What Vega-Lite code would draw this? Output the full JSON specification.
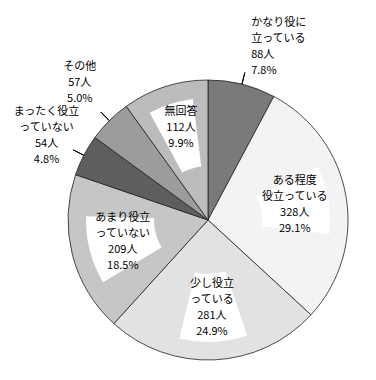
{
  "$schema": "https://vega.github.io/schema/vega-lite/v6.json",
  "width": 336,
  "height": 320,
  "autosize": "none",
  "padding": {"left": 40, "top": 60, "right": 0, "bottom": 0},
  "background": "white",
  "config": {"view": {"stroke": null}},
  "data": {
    "values": [
      {"name": "かなり役に\n立っている", "n": 88, "pct": 7.8},
      {"name": "ある程度\n役立っている", "n": 328, "pct": 29.1},
      {"name": "少し役立\nっている", "n": 281, "pct": 24.9},
      {"name": "あまり役立\nっていない", "n": 209, "pct": 18.5},
      {"name": "まったく役立\nっていない", "n": 54, "pct": 4.8},
      {"name": "その他", "n": 57, "pct": 5.0},
      {"name": "無回答", "n": 112, "pct": 9.9}
    ]
  },
  "transform": [
    {"joinaggregate": [{"op": "sum", "field": "n", "as": "total"}]},
    {"window": [{"op": "sum", "field": "n", "as": "cum"}], "frame": [null, 0]},
    {"calculate": "(datum.cum - datum.n) / datum.total", "as": "start"},
    {"calculate": "datum.cum / datum.total", "as": "end"},
    {"calculate": "(datum.cum - datum.n / 2) / datum.total", "as": "mid"},
    {"calculate": "min(0.045, 0.3 * datum.n / datum.total)", "as": "half"},
    {"calculate": "datum.mid - datum.half", "as": "boxStart"},
    {"calculate": "datum.mid + datum.half", "as": "boxEnd"},
    {"calculate": "datum.name + '\\n' + datum.n + '人\\n' + format(datum.pct, '.1f') + '%'", "as": "label"}
  ],
  "layer": [
    {
      "mark": {"type": "arc", "radius": 140, "stroke": "#222222", "strokeWidth": 0.8},
      "encoding": {
        "theta": {"field": "start", "type": "quantitative", "stack": null, "scale": {"domain": [0, 1], "range": [0, 6.283185307179586]}},
        "theta2": {"field": "end"},
        "fill": {
          "field": "name",
          "type": "nominal",
          "legend": null,
          "scale": {
            "domain": ["かなり役に\n立っている", "ある程度\n役立っている", "少し役立\nっている", "あまり役立\nっていない", "まったく役立\nっていない", "その他", "無回答"],
            "range": ["#7a7a7a", "#f3f3f3", "#e2e2e2", "#c6c6c6", "#5e5e5e", "#9c9c9c", "#bcbcbc"]
          }
        }
      }
    },
    {
      "transform": [{"filter": "datum.pct >= 8"}],
      "mark": {"type": "arc", "radius": 122, "radius2": 54, "fill": "white", "stroke": null},
      "encoding": {
        "theta": {"field": "boxStart", "type": "quantitative", "stack": null},
        "theta2": {"field": "boxEnd"}
      }
    },
    {
      "transform": [{"filter": "datum.pct < 8"}],
      "mark": {"type": "arc", "radius": 152, "radius2": 140, "fill": null, "stroke": "black", "strokeWidth": 1},
      "encoding": {
        "theta": {"field": "mid", "type": "quantitative", "stack": null},
        "theta2": {"field": "mid"}
      }
    },
    {
      "transform": [{"filter": "datum.pct >= 8"}],
      "mark": {"type": "text", "radius": 88, "dy": -24, "font": "Noto Sans CJK JP", "fontSize": 11, "lineBreak": "\n", "lineHeight": 16, "align": "center", "baseline": "middle", "fill": "black"},
      "encoding": {
        "theta": {"field": "mid", "type": "quantitative", "stack": null},
        "text": {"field": "label"}
      }
    },
    {
      "transform": [{"filter": "datum.pct < 8 && datum.mid < 0.5"}],
      "mark": {"type": "text", "radius": 178, "dy": -24, "font": "Noto Sans CJK JP", "fontSize": 11, "lineBreak": "\n", "lineHeight": 16, "align": "left", "baseline": "middle", "fill": "black"},
      "encoding": {
        "theta": {"field": "mid", "type": "quantitative", "stack": null},
        "text": {"field": "label"}
      }
    },
    {
      "transform": [{"filter": "datum.pct < 8 && datum.mid >= 0.5"}],
      "mark": {"type": "text", "radius": 182, "dy": -24, "font": "Noto Sans CJK JP", "fontSize": 11, "lineBreak": "\n", "lineHeight": 16, "align": "center", "baseline": "middle", "fill": "black"},
      "encoding": {
        "theta": {"field": "mid", "type": "quantitative", "stack": null},
        "text": {"field": "label"}
      }
    }
  ]
}
